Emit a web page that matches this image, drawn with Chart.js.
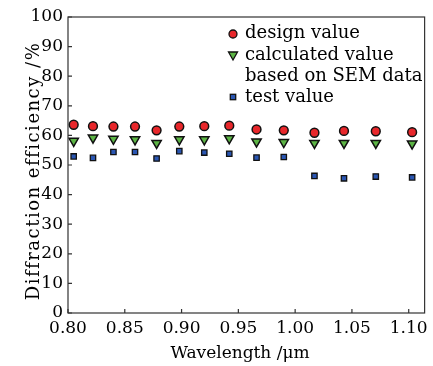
<!DOCTYPE html>
<html>
<head>
<meta charset="utf-8">
<script src="https://cdn.jsdelivr.net/npm/chart.js@4.4.1/dist/chart.umd.min.js"></script>
<style>
  body { margin: 0; background: #fff; }
  canvas { display: block; }
</style>
</head>
<body>
<canvas id="myChart" width="433" height="366"></canvas>
<script>
// data
const wavelength = [0.805, 0.822, 0.840, 0.859, 0.878, 0.898, 0.920, 0.942, 0.966, 0.990, 1.017, 1.043, 1.071, 1.103];
const designValue = [63.6, 63.1, 63.0, 63.0, 61.7, 63.0, 63.1, 63.3, 62.0, 61.7, 60.9, 61.5, 61.4, 61.1];
const calculatedValue = [58.1, 59.2, 58.8, 58.6, 57.4, 58.6, 58.6, 59.0, 57.9, 57.7, 57.4, 57.4, 57.4, 57.2];
const testValue = [52.9, 52.4, 54.4, 54.4, 52.2, 54.7, 54.2, 53.8, 52.5, 52.7, 46.3, 45.5, 46.1, 45.8];
const xTicks = [0.80, 0.85, 0.90, 0.95, 1.00, 1.05, 1.10];
const yTicks = [0, 10, 20, 30, 40, 50, 60, 70, 80, 90, 100];

const FONT = '"DejaVu Serif", serif';
const RED = '#e8272b';
const GREEN = '#5cb545';
const BLUE = '#2a56b2';
const EDGE = '#111';

function pts(ys) {
  return wavelength.map(function (x, i) { return { x: x, y: ys[i] }; });
}

/* frame, inner ticks, legend, axis titles */
const decor = {
  id: 'decor',
  afterDraw: function (chart) {
    const ctx = chart.ctx;
    const a = chart.chartArea;
    const xs = chart.scales.x;
    const ys = chart.scales.y;
    ctx.save();
    ctx.strokeStyle = '#333';
    ctx.lineWidth = 1.2;
    ctx.strokeRect(a.left, a.top, a.right - a.left, a.bottom - a.top);
    ctx.beginPath();
    xTicks.forEach(function (v) {
      const px = xs.getPixelForValue(v);
      ctx.moveTo(px, a.bottom);
      ctx.lineTo(px, a.bottom - 4);
    });
    yTicks.forEach(function (v) {
      const py = ys.getPixelForValue(v);
      ctx.moveTo(a.left, py);
      ctx.lineTo(a.left + 4, py);
    });
    ctx.stroke();

    // legend
    ctx.lineWidth = 1.3;
    ctx.strokeStyle = EDGE;
    const lx = 233;
    ctx.fillStyle = RED;
    ctx.beginPath();
    ctx.arc(lx, 34, 4, 0, Math.PI * 2);
    ctx.fill();
    ctx.stroke();
    ctx.fillStyle = GREEN;
    ctx.beginPath();
    ctx.moveTo(lx - 4.5, 52);
    ctx.lineTo(lx + 4.5, 52);
    ctx.lineTo(lx, 60);
    ctx.closePath();
    ctx.fill();
    ctx.stroke();
    ctx.fillStyle = BLUE;
    ctx.fillRect(lx - 2.7, 94.3, 5.4, 5.4);
    ctx.strokeRect(lx - 2.7, 94.3, 5.4, 5.4);

    ctx.fillStyle = '#000';
    ctx.font = '18px ' + FONT;
    ctx.textAlign = 'left';
    ctx.textBaseline = 'middle';
    ctx.fillText('design value', 245, 33);
    ctx.fillText('calculated value', 245, 55);
    ctx.fillText('based on SEM data', 245, 76);
    ctx.fillText('test value', 245, 97);

    // axis titles
    ctx.font = '17px ' + FONT;
    ctx.textAlign = 'center';
    ctx.fillText('Wavelength /\u03bcm', 240, 354);
    ctx.font = '18px ' + FONT;
    ctx.translate(34, 171);
    ctx.rotate(-Math.PI / 2);
    ctx.letterSpacing = '1.5px';
    ctx.fillText('Diffraction efficiency /%', 0, 0);
    ctx.restore();
  }
};

const ctx = document.getElementById('myChart').getContext('2d');

const chart = new Chart(ctx, {
  type: 'scatter',
  data: {
    datasets: [
      {
        label: 'design value',
        data: pts(designValue),
        pointStyle: 'circle',
        pointRadius: 4.4,
        backgroundColor: RED,
        borderColor: EDGE,
        borderWidth: 1.5,
      },
      {
        label: 'calculated value based on SEM data',
        data: pts(calculatedValue),
        pointStyle: 'triangle',
        rotation: 180,
        pointRadius: 5.4,
        backgroundColor: GREEN,
        borderColor: EDGE,
        borderWidth: 1.5,
      },
      {
        label: 'test value',
        data: pts(testValue),
        pointStyle: 'rect',
        pointRadius: 3.8,
        backgroundColor: BLUE,
        borderColor: EDGE,
        borderWidth: 1.3,
      },
    ],
  },
  options: {
    responsive: false,
    animation: false,
    devicePixelRatio: 1,
    layout: { padding: { top: 17, right: 8, left: 0, bottom: 0 } },
    plugins: {
      legend: { display: false },
      tooltip: { enabled: false },
    },
    scales: {
      x: {
        type: 'linear',
        min: 0.8,
        max: 1.114,
        afterBuildTicks: function (scale) {
          scale.ticks = xTicks.map(function (v) { return { value: v }; });
        },
        afterFit: function (scale) { scale.height = 53; },
        grid: { display: false, drawTicks: false },
        border: { display: false },
        ticks: {
          padding: 5,
          color: '#000',
          font: { family: FONT, size: 17 },
          maxRotation: 0,
          callback: function (v) { return v.toFixed(2); },
        },
      },
      y: {
        min: 0,
        max: 100,
        afterBuildTicks: function (scale) {
          scale.ticks = yTicks.map(function (v) { return { value: v }; });
        },
        afterFit: function (scale) { scale.width = 68; },
        grid: { display: false, drawTicks: false },
        border: { display: false },
        ticks: {
          padding: 5,
          color: '#000',
          font: { family: FONT, size: 17 },
        },
      },
    },
  },
  plugins: [decor],
});
</script>
</body>
</html>
